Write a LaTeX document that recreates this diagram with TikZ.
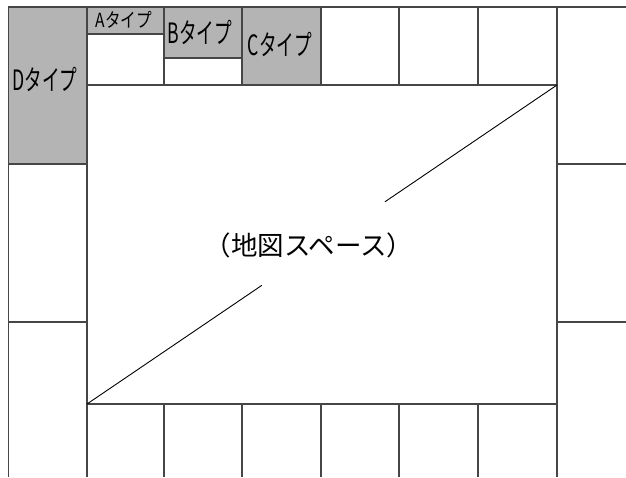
\documentclass[tikz,border=0pt]{standalone}
\usepackage{fontspec}
\usetikzlibrary{calc}
\newfontfamily\jp{Noto Sans CJK JP}
\definecolor{linec}{RGB}{70,70,70}
\definecolor{typefill}{RGB}{180,180,180}
\tikzset{
  grid line/.style={draw=linec, line width=1.1pt},
  type fill/.style={fill=typefill},
  label/.style={inner sep=0pt, text=black, font=\jp},
}
\newcommand{\lbl}[3]{\scalebox{#1}[1]{\fontsize{#2}{#2}\selectfont #3}}
\begin{document}
\begin{tikzpicture}[x=1pt, y=-1pt]
\useasboundingbox (0,0) rectangle (626,477);
\clip (0,0) rectangle (626,477);
% grey type areas
\fill[type fill] (8.5,7) rectangle (87,164);
\fill[type fill] (87,7) rectangle (164,34);
\fill[type fill] (164,7) rectangle (242,58);
\fill[type fill] (242,7) rectangle (321,85);
% outer lines
\draw[grid line] (8.5,477) -- (8.5,7) -- (626,7);
\draw[grid line] (87,7) -- (87,477);
\draw[grid line] (557,7) -- (557,477);
% left column
\draw[grid line] (8.5,164) -- (87,164);
\draw[grid line] (8.5,322) -- (87,322);
% right column
\draw[grid line] (557,164) -- (626,164);
\draw[grid line] (557,322) -- (626,322);
% top row
\draw[grid line] (87,34) -- (164,34);
\draw[grid line] (164,58) -- (242,58);
\foreach \x in {164,242,321,399,478} \draw[grid line] (\x,7) -- (\x,85);
% map area
\draw[grid line] (87,85) -- (557,85);
\draw[grid line] (87,404) -- (557,404);
% bottom row
\foreach \x in {164,242,321,399,478} \draw[grid line] (\x,404) -- (\x,477);
% diagonal
\coordinate (bl) at (87,404);
\coordinate (tr) at (557,85);
\draw[draw=black, line width=0.9pt] (bl) -- ($(bl)!0.372!(tr)$);
\draw[draw=black, line width=0.9pt] ($(bl)!0.634!(tr)$) -- (tr);
% labels
\node[label] (d) at (45,79) {\lbl{0.63}{28}{Dタイプ}};
\node[label] (a) at (124,20) {\lbl{0.8}{19.5}{Aタイプ}};
\node[label] (b) at (200,32) {\lbl{0.63}{28}{Bタイプ}};
\node[label] (c) at (280,44) {\lbl{0.63}{28}{Cタイプ}};
\node[label] (m) at (309,245) {\lbl{1}{26.5}{（地図スペース）}};
\end{tikzpicture}
\end{document}
